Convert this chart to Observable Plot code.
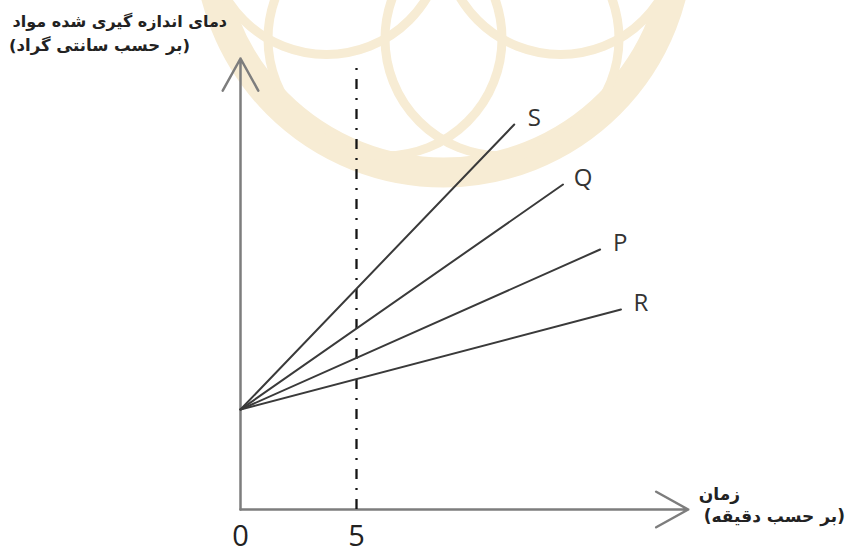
<!DOCTYPE html>
<html>
<head>
<meta charset="utf-8">
<script src="https://cdn.jsdelivr.net/npm/d3@7"></script>
<script src="https://cdn.jsdelivr.net/npm/@observablehq/plot@0.6"></script>
<style>
  html, body { margin: 0; padding: 0; background: #fff; }
  #wrap { position: relative; width: 854px; height: 554px; }
  #wrap svg { display: block; }
  .ttl { position: absolute; direction: rtl; text-align: right; white-space: nowrap;
         font-family: "DejaVu Sans", sans-serif; font-weight: bold; color: #222; line-height: 1; }
</style>
</head>
<body>
<div id="wrap"></div>
<script>
// ---- data ----
const series = ["S", "Q", "P", "R"];
const startTime = 0;          // minutes
const startTemp = 20;         // common starting temperature
const endTime = [11.8, 13.9, 15.5, 16.4];
const endTemp = [77, 65, 52, 40];
const xTickValues = [0, 5];
const xTickLabels = ["0", "5"];
const markerTime = 5;         // dash-dot reference line
const markerTop = 88.4;
const xAxisEnd = 19.3;
const yAxisEnd = 90.2;
const yTitle = ["دمای اندازه گیری شده مواد", "(بر حسب سانتی گراد)"];
const xTitle = ["زمان", "(بر حسب دقیقه)"];
const watermarkCenter = [{t: 8.75, v: 114.4}];

// ---- derived tables ----
const lineRows = series.flatMap((s, i) => [
  {series: s, t: startTime, v: startTemp},
  {series: s, t: endTime[i], v: endTemp[i]}
]);
const endRows = series.map((s, i) => ({series: s, t: endTime[i], v: endTemp[i]}));
const axisRows = [
  {x1: 0, y1: 0, x2: 0, y2: yAxisEnd},
  {x1: 0, y1: 0, x2: xAxisEnd, y2: 0}
];
const ticks = xTickValues.map((t, i) => ({t, label: xTickLabels[i]}));

const beige = "#f7ecd4";
const petals = [0, 60, 120, 180, 240, 300].map(a => ({
  dx: 117 * Math.cos(a * Math.PI / 180),
  dy: 117 * Math.sin(a * Math.PI / 180)
}));

const marks = [
  // faint watermark
  Plot.dot(watermarkCenter, {x: "t", y: "v", r: 235, stroke: beige, strokeWidth: 30, fill: "none"}),
  ...petals.map(p => Plot.dot(watermarkCenter, {x: "t", y: "v", r: 117, dx: p.dx, dy: p.dy, stroke: beige, strokeWidth: 9, fill: "none"})),
  // axes with arrow heads
  Plot.arrow(axisRows, {x1: "x1", y1: "y1", x2: "x2", y2: "y2", stroke: "#7d7d7d", strokeWidth: 2.5, headAngle: 58, headLength: 22, strokeLinecap: "round"}),
  // dash-dot marker
  Plot.ruleX([markerTime], {y1: 0, y2: markerTop, stroke: "#151515", strokeWidth: 2.3, strokeDasharray: "10,9,2,9"}),
  // series lines
  Plot.line(lineRows, {x: "t", y: "v", z: "series", stroke: "#3a3a3a", strokeWidth: 2}),
  Plot.text(endRows, {x: "t", y: "v", text: "series", dx: 20, dy: -6, fontSize: 24, fill: "#333", fontFamily: "Open Sans"}),
  // tick labels
  Plot.text(ticks, {x: "t", text: "label", frameAnchor: "bottom", lineAnchor: "bottom", dy: 36, fontSize: 29, fill: "#222", fontFamily: "Open Sans"})
];

const chart = Plot.plot({
  width: 854,
  height: 554,
  marginLeft: 240,
  marginRight: 150,
  marginTop: 9,
  marginBottom: 45,
  x: {domain: [0, 20], axis: null},
  y: {domain: [0, 100], axis: null},
  style: {background: "#fff", overflow: "visible"},
  marks
});
const wrap = document.getElementById("wrap");
wrap.appendChild(chart);

// axis titles (RTL text as HTML)
const titles = [
  {text: yTitle[0], right: 627, top: 14, size: 16},
  {text: yTitle[1], right: 664, top: 38, size: 16.5},
  {text: xTitle[0], right: 114, top: 486, size: 17},
  {text: xTitle[1], right: 9, top: 508, size: 17}
];
for (const t of titles) {
  const d = document.createElement("div");
  d.className = "ttl";
  d.textContent = t.text;
  d.style.right = t.right + "px";
  d.style.top = t.top + "px";
  d.style.fontSize = t.size + "px";
  wrap.appendChild(d);
}
</script>
</body>
</html>
